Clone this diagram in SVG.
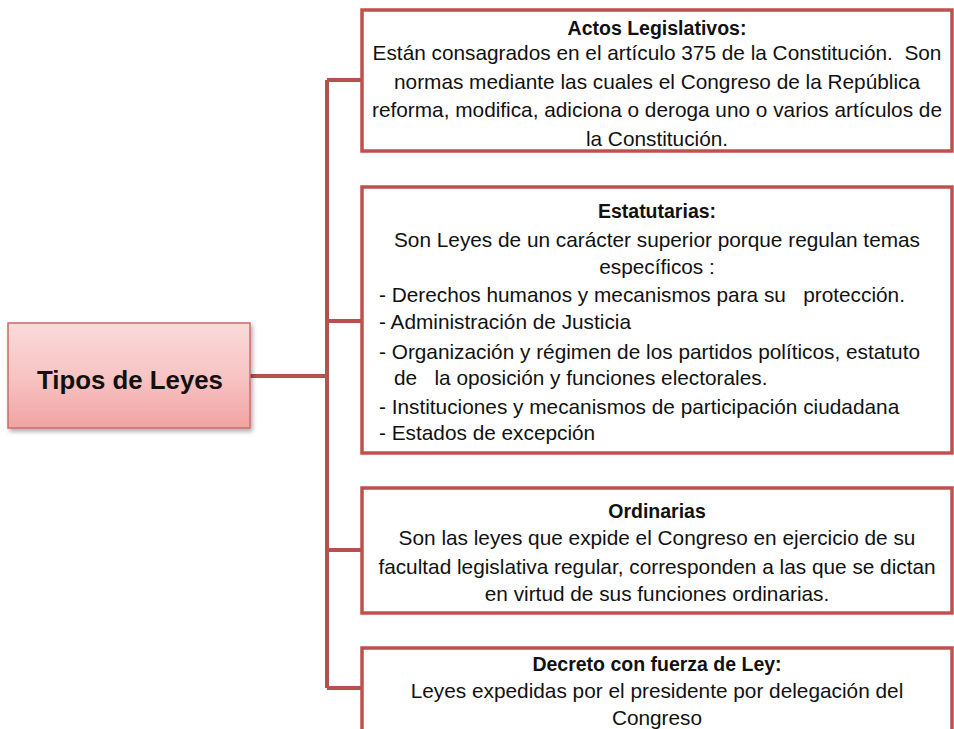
<svg xmlns="http://www.w3.org/2000/svg" width="954" height="729" viewBox="0 0 954 729">
<defs>
<linearGradient id="rootFill" x1="0" y1="0" x2="0" y2="1">
<stop offset="0" stop-color="#fbdada"/>
<stop offset="0.5" stop-color="#f8c4c4"/>
<stop offset="1" stop-color="#f2a3a3"/>
</linearGradient>
<filter id="sh" x="-5%" y="-5%" width="115%" height="120%">
<feDropShadow dx="2" dy="3" stdDeviation="2" flood-color="#000" flood-opacity="0.3"/>
</filter>
</defs>
<style>
.box{fill:#ffffff;stroke:#c0504d;stroke-width:3.5}
.conn{fill:none;stroke:#b5524f;stroke-width:4}
text{font-family:"Liberation Sans",Arial,sans-serif;font-size:20.8px;fill:#111}
.c{text-anchor:middle}
.b{font-weight:bold;font-size:19.5px}
</style>
<rect width="954" height="729" fill="#ffffff"/>
<g id="connectors">
<path class="conn" d="M250 376 H327 M327 80 V688 M327 80 H362 M327 321 H362 M327 550 H362 M327 688 H362"/>
</g>
<g id="root">
<rect x="8" y="323" width="242" height="105" fill="url(#rootFill)" stroke="#d06a66" stroke-width="1.5" filter="url(#sh)"/>
<text class="c" x="130" y="389" style="font-size:25.8px;font-weight:bold">Tipos de Leyes</text>
</g>
<g id="actos">
<rect class="box" x="362" y="10" width="590" height="141"/>
<text class="c b" x="657" y="35">Actos Legislativos:</text>
<text class="c" x="657" y="60" xml:space="preserve">Están consagrados en el artículo 375 de la Constitución.  Son</text>
<text class="c" x="657" y="89">normas mediante las cuales el Congreso de la República</text>
<text class="c" x="657" y="117">reforma, modifica, adiciona o deroga uno o varios artículos de</text>
<text class="c" x="657" y="146">la Constitución.</text>
</g>
<g id="estatutarias">
<rect class="box" x="362" y="187" width="590" height="266"/>
<text class="c b" x="657" y="218">Estatutarias:</text>
<text class="c" x="657" y="247">Son Leyes de un carácter superior porque regulan temas</text>
<text class="c" x="657" y="274">específicos :</text>
<text x="379" y="302" xml:space="preserve">- Derechos humanos y mecanismos para su   protección.</text>
<text x="379" y="329">- Administración de Justicia</text>
<text x="379" y="359">- Organización y régimen de los partidos políticos, estatuto</text>
<text x="394" y="385" xml:space="preserve">de   la oposición y funciones electorales.</text>
<text x="379" y="414">- Instituciones y mecanismos de participación ciudadana</text>
<text x="379" y="440">- Estados de excepción</text>
</g>
<g id="ordinarias">
<rect class="box" x="362" y="488" width="590" height="125"/>
<text class="c b" x="657" y="518">Ordinarias</text>
<text class="c" x="657" y="545">Son las leyes que expide el Congreso en ejercicio de su</text>
<text class="c" x="657" y="574">facultad legislativa regular, corresponden a las que se dictan</text>
<text class="c" x="657" y="601">en virtud de sus funciones ordinarias.</text>
</g>
<g id="decreto">
<rect class="box" x="362" y="648" width="590" height="100"/>
<text class="c b" x="657" y="671">Decreto con fuerza de Ley:</text>
<text class="c" x="657" y="698">Leyes expedidas por el presidente por delegación del</text>
<text class="c" x="657" y="725">Congreso</text>
</g>
</svg>
